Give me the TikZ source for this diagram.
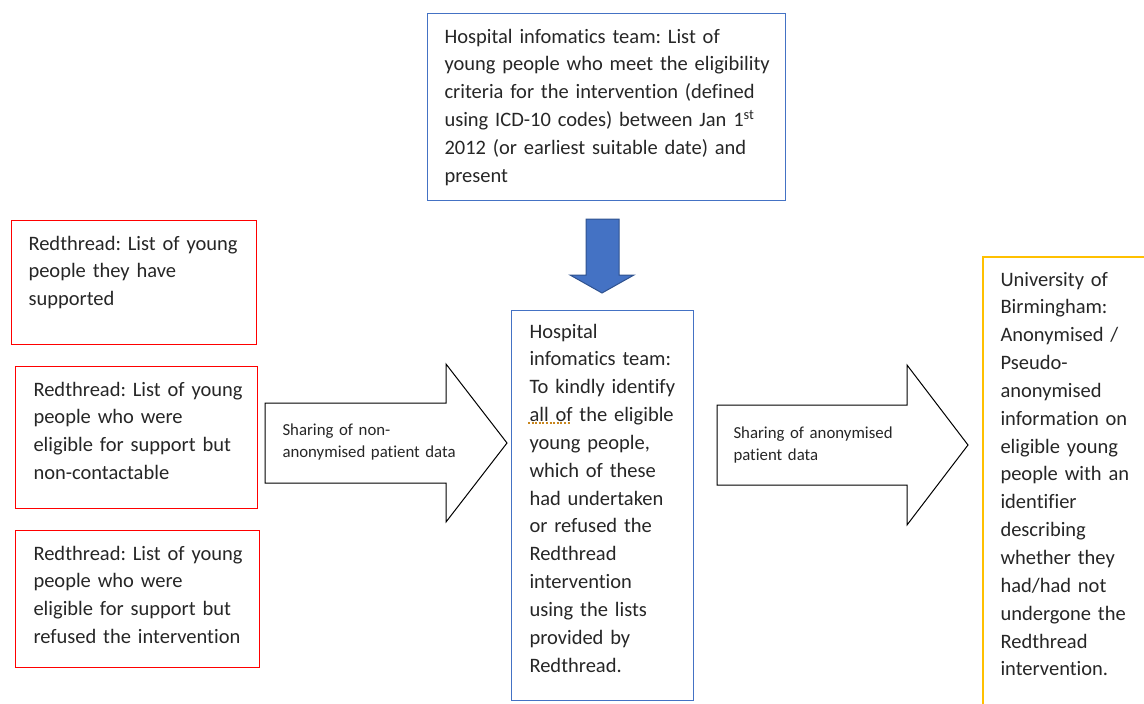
\documentclass[tikz,border=0pt]{standalone}
\usepackage{fontspec}
\setmainfont{Carlito}[Ligatures=NoCommon]
\frenchspacing
\definecolor{boxblue}{HTML}{4472C4}
\definecolor{arrowfill}{HTML}{4472C4}
\definecolor{arrowline}{HTML}{2F528F}
\definecolor{boxred}{HTML}{FF0000}
\definecolor{boxyellow}{HTML}{FFC000}
\definecolor{txtgray}{HTML}{262626}
\definecolor{squiggle}{HTML}{C8861E}
\begin{document}
\begin{tikzpicture}[x=1pt,y=-1pt,line width=1pt,
  boxbase/.style={anchor=north west,inner sep=0pt,outer sep=0pt},
  bluebox/.style={boxbase,draw=boxblue},
  redbox/.style={boxbase,draw=boxred},
  yellowbox/.style={boxbase,draw=boxyellow,line width=1.4pt},
  bigtxt/.style={anchor=base west,inner sep=0pt,align=left,text=txtgray,
    font=\fontsize{20.5}{27.85}\selectfont\frenchspacing},
  smalltxt/.style={anchor=base west,inner sep=0pt,align=left,text=txtgray,
    font=\fontsize{16.8}{22}\selectfont\frenchspacing},
  blockarrow/.style={draw=black,fill=white,line join=miter},
  downarrow/.style={draw=arrowline,fill=arrowfill,line join=miter}]
\useasboundingbox (0,0) rectangle (1144,704);
% boxes
\node[bluebox,minimum width=358pt,minimum height=187pt] (top) at (427,13) {};
\node[redbox,minimum width=245pt,minimum height=124pt] (red1) at (11,220) {};
\node[redbox,minimum width=242pt,minimum height=142pt] (red2) at (15,366) {};
\node[redbox,minimum width=244pt,minimum height=137pt] (red3) at (15,530) {};
\node[bluebox,minimum width=182pt,minimum height=390pt] (mid) at (511,310) {};
\node[yellowbox,minimum width=220pt,minimum height=500pt] (uob) at (983,257) {};
% texts
\node[bigtxt,text width=400pt] (toptext) at (444,43) {Hospital infomatics team: List of\\young people who meet the eligibility\\criteria for the intervention (defined\\using ICD-10 codes) between Jan 1\textsuperscript{st}\\2012 (or earliest suitable date) and\\present};
\node[bigtxt,text width=300pt] (red1text) at (28,250) {Redthread: List of young\\people they have\\supported};
\node[bigtxt,text width=300pt] (red2text) at (33,396) {Redthread: List of young\\people who were\\eligible for support but\\non-contactable};
\node[bigtxt,text width=300pt] (red3text) at (33,560) {Redthread: List of young\\people who were\\eligible for support but\\refused the intervention};
\node[bigtxt,text width=250pt] (midtext) at (529,338) {Hospital\\infomatics team:\\To kindly identify\\all of the eligible\\young people,\\which of these\\had undertaken\\or refused the\\Redthread\\intervention\\using the lists\\provided by\\Redthread.};
\node[bigtxt,text width=250pt] (uobtext) at (1000,286) {University of\\Birmingham:\\Anonymised /\\Pseudo-\\anonymised\\information on\\eligible young\\people with an\\identifier\\describing\\whether they\\had/had not\\undergone the\\Redthread\\intervention.};
% squiggle under "all of"
\coordinate (sqa) at (528,423);
\coordinate (sqb) at (570,423);
\draw[squiggle,line width=1.2pt,dash pattern=on 2pt off 1.6pt] (sqa) -- (sqb);
% down arrow from top box to middle box
\draw[downarrow] (586,219) -- (619,219) -- (619,275) -- (634,275) -- (602,293) -- (570,275) -- (586,275) -- cycle;
% block arrow 1
\draw[blockarrow] (265,403) -- (446,403) -- (446,364) -- (507,443) -- (446,522) -- (446,483) -- (265,483) -- cycle;
\node[smalltxt,text width=250pt] (a1text) at (282,435) {Sharing of non-\\anonymised patient data};
% block arrow 2
\draw[blockarrow] (717,405) -- (907,405) -- (907,365) -- (968,445) -- (907,525) -- (907,485) -- (717,485) -- cycle;
\node[smalltxt,text width=250pt] (a2text) at (733,438) {Sharing of anonymised\\patient data};
\end{tikzpicture}
\end{document}
